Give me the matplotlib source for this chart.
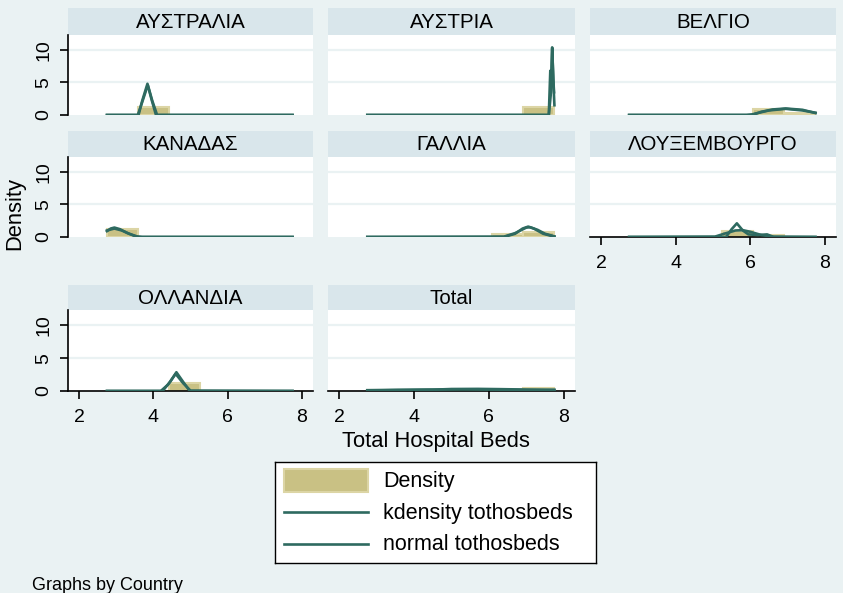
import numpy as np
import matplotlib
matplotlib.use('Agg')
import matplotlib.pyplot as plt
from matplotlib.patches import Rectangle

plt.rcParams['font.family'] = ['Liberation Sans', 'DejaVu Sans']

# histogram bins (common to all panels)
bin_edges = [2.75, 3.583, 4.417, 5.25, 6.083, 6.917, 7.75]

countries = ['ΑΥΣΤΡΑΛΙΑ', 'ΑΥΣΤΡΙΑ', 'ΒΕΛΓΙΟ', 'ΚΑΝΑΔΑΣ', 'ΓΑΛΛΙΑ',
             'ΛΟΥΞΕΜΒΟΥΡΓΟ', 'ΟΛΛΑΝΔΙΑ', 'Total']

# histogram densities per bin
hist_australia = [0, 1.2, 0, 0, 0, 0]
hist_austria = [0, 0, 0, 0, 0, 1.2]
hist_belgium = [0, 0, 0, 0, 0.85, 0.35]
hist_canada = [1.2, 0, 0, 0, 0, 0]
hist_france = [0, 0, 0, 0, 0.4, 0.8]
hist_luxembourg = [0, 0, 0, 0.95, 0.25, 0]
hist_netherlands = [0, 0, 1.2, 0, 0, 0]
hist_total = [0.15, 0.15, 0.15, 0.13, 0.2, 0.45]

# kdensity curves (x, y)
kde_australia_x = [2.75, 3.6, 3.7, 3.84, 3.95, 4.07, 7.75]
kde_australia_y = [0, 0, 2.2, 4.8, 2.4, 0, 0]
kde_austria_x = [2.75, 7.6, 7.64, 7.67, 7.69, 7.72, 7.74]
kde_austria_y = [0, 0, 6.8, 5.0, 10.4, 5.5, 3.5]
kde_belgium_x = [2.75, 6.05, 6.3, 6.6, 6.95, 7.4, 7.75]
kde_belgium_y = [0, 0, 0.5, 0.85, 1.0, 0.8, 0.3]
kde_canada_x = [2.75, 2.85, 2.95, 3.1, 3.3, 3.5, 3.6, 7.75]
kde_canada_y = [0.9, 1.3, 1.45, 1.2, 0.6, 0.15, 0, 0]
kde_france_x = [2.75, 6.4, 6.7, 6.9, 7.05, 7.2, 7.45, 7.75]
kde_france_y = [0, 0, 0.5, 1.3, 1.6, 1.3, 0.5, 0.05]
kde_luxembourg_x = [2.75, 5.35, 5.5, 5.64, 5.8, 5.95, 6.2, 6.45, 6.63, 7.75]
kde_luxembourg_y = [0, 0, 1.2, 2.1, 1.0, 0.4, 0.3, 0.4, 0, 0]
kde_netherlands_x = [2.75, 4.25, 4.45, 4.62, 4.8, 4.98, 7.75]
kde_netherlands_y = [0, 0, 1.4, 2.85, 1.4, 0, 0]
kde_total_x = [2.75, 3.5, 4.5, 5.0, 5.7, 6.3, 7.0, 7.75]
kde_total_y = [0.12, 0.17, 0.2, 0.3, 0.32, 0.28, 0.22, 0.2]

# normal curves (x, y)
norm_australia_x = [2.75, 3.58, 3.7, 3.85, 3.97, 4.1, 7.75]
norm_australia_y = [0, 0, 2.0, 4.6, 2.2, 0, 0]
norm_austria_x = [2.75, 7.6, 7.65, 7.69, 7.73, 7.75]
norm_austria_y = [0, 0, 3.0, 10.2, 4.0, 1.5]
norm_belgium_x = [2.75, 5.9, 6.05, 6.5, 6.95, 7.4, 7.75]
norm_belgium_y = [0, 0, 0.1, 0.7, 0.95, 0.7, 0.35]
norm_canada_x = [2.75, 2.95, 3.15, 3.35, 3.55, 3.7, 7.75]
norm_canada_y = [1.0, 1.3, 1.0, 0.5, 0.1, 0, 0]
norm_france_x = [2.75, 6.4, 6.7, 7.0, 7.1, 7.3, 7.5, 7.75]
norm_france_y = [0, 0.05, 0.6, 1.45, 1.5, 1.1, 0.5, 0.1]
norm_luxembourg_x = [2.75, 5.05, 5.3, 5.6, 5.8, 6.0, 6.3, 6.6, 7.75]
norm_luxembourg_y = [0, 0.05, 0.5, 1.0, 1.05, 0.8, 0.3, 0.05, 0]
norm_netherlands_x = [2.75, 4.2, 4.4, 4.6, 4.8, 5.0, 7.75]
norm_netherlands_y = [0, 0, 1.0, 2.6, 1.2, 0.05, 0]
norm_total_x = [2.75, 3.5, 4.3, 5.3, 6.3, 7.0, 7.75]
norm_total_y = [0.07, 0.13, 0.2, 0.25, 0.2, 0.14, 0.08]

legend_labels = ['Density', 'kdensity tothosbeds', 'normal tothosbeds']

hists = [hist_australia, hist_austria, hist_belgium, hist_canada,
         hist_france, hist_luxembourg, hist_netherlands, hist_total]
kdes = [(kde_australia_x, kde_australia_y), (kde_austria_x, kde_austria_y),
        (kde_belgium_x, kde_belgium_y), (kde_canada_x, kde_canada_y),
        (kde_france_x, kde_france_y), (kde_luxembourg_x, kde_luxembourg_y),
        (kde_netherlands_x, kde_netherlands_y), (kde_total_x, kde_total_y)]
norms = [(norm_australia_x, norm_australia_y), (norm_austria_x, norm_austria_y),
         (norm_belgium_x, norm_belgium_y), (norm_canada_x, norm_canada_y),
         (norm_france_x, norm_france_y), (norm_luxembourg_x, norm_luxembourg_y),
         (norm_netherlands_x, norm_netherlands_y), (norm_total_x, norm_total_y)]

BG = '#EAF2F3'
STRIP = '#D9E6EB'
BAR = '#C9C184'
BAR_EDGE = '#DCD5A5'
LINE = '#2E6A60'
LW = 1.9

W, H = 843.0, 593.0


def px_box(x0, y0, x1, y1):
    return [x0 / W, 1 - y1 / H, (x1 - x0) / W, (y1 - y0) / H]


fig = plt.figure(figsize=(8.43, 5.93), dpi=100, facecolor=BG)

col_x = [(68, 313), (328, 575), (590, 836)]
row_y = [(8, 35, 115), (131, 157, 237), (285, 310, 391)]
# which panels get an x axis
x_axis_on = [False, False, False, False, False, True, True, True]

edges = np.array(bin_edges)
widths = np.diff(edges)

for i, name in enumerate(countries):
    r, c = divmod(i, 3)
    x0, x1 = col_x[c]
    s0, p0, p1 = row_y[r]

    strip = fig.add_axes(px_box(x0, s0, x1, p0))
    strip.set_facecolor(STRIP)
    strip.set_xticks([])
    strip.set_yticks([])
    for sp in strip.spines.values():
        sp.set_visible(False)
    strip.text(0.5, 0.47, name, ha='center', va='center', fontsize=14.8,
               transform=strip.transAxes)

    ax = fig.add_axes(px_box(x0, p0, x1, p1))
    ax.set_facecolor('white')
    ax.set_xlim(1.7, 8.3)
    ax.set_ylim(0, 12.3)
    for yg in [5, 10]:
        ax.axhline(yg, color=BG, lw=1.6, zorder=0)

    ax.bar(edges[:-1], hists[i], width=widths, align='edge', color=BAR,
           edgecolor=BAR_EDGE, linewidth=1.5, zorder=2)
    ax.plot(kdes[i][0], kdes[i][1], color=LINE, lw=LW, zorder=3)
    ax.plot(norms[i][0], norms[i][1], color=LINE, lw=LW, zorder=3)

    for sp in ['top', 'right']:
        ax.spines[sp].set_visible(False)

    if c == 0:
        ax.spines['left'].set_linewidth(1.2)
        ax.set_yticks([0, 5, 10])
        ax.set_yticklabels(['0', '5', '10'], rotation=90, va='center')
        ax.tick_params(axis='y', length=6, width=1.2, pad=5, labelsize=14)
    else:
        ax.spines['left'].set_visible(False)
        ax.set_yticks([])

    if x_axis_on[i]:
        ax.spines['bottom'].set_linewidth(1.2)
        ax.set_xticks([2, 4, 6, 8])
        ax.tick_params(axis='x', length=6, width=1.2, pad=7, labelsize=14)
    else:
        ax.spines['bottom'].set_visible(False)
        ax.set_xticks([])

fig.text(15 / W, 1 - 213 / H, 'Density', rotation=90, ha='center',
         va='center', fontsize=15.8)
fig.text(436 / W, 1 - 441 / H, 'Total Hospital Beds', ha='center',
         va='center', fontsize=15.8)
fig.text(32 / W, 1 - 585 / H, 'Graphs by Country', ha='left',
         va='center', fontsize=13)

# legend box, drawn by hand in its own pixel-sized axes
lax = fig.add_axes(px_box(275, 462, 596, 563))
lax.set_xlim(275, 596)
lax.set_ylim(563, 462)
lax.set_facecolor('white')
lax.set_xticks([])
lax.set_yticks([])
for sp in lax.spines.values():
    sp.set_linewidth(1.0)
    sp.set_color('black')
lax.add_patch(Rectangle((284, 469), 84, 23, facecolor=BAR,
                        edgecolor=BAR_EDGE, linewidth=1.5))
lax.plot([284, 368], [512, 512], color=LINE, lw=LW)
lax.plot([284, 368], [544, 544], color=LINE, lw=LW)
for lbl, yc in zip(legend_labels, [482, 513, 545]):
    lax.text(383, yc, lbl, ha='left', va='center', fontsize=15.5)

fig.savefig('out.png', dpi=100, facecolor=BG)
